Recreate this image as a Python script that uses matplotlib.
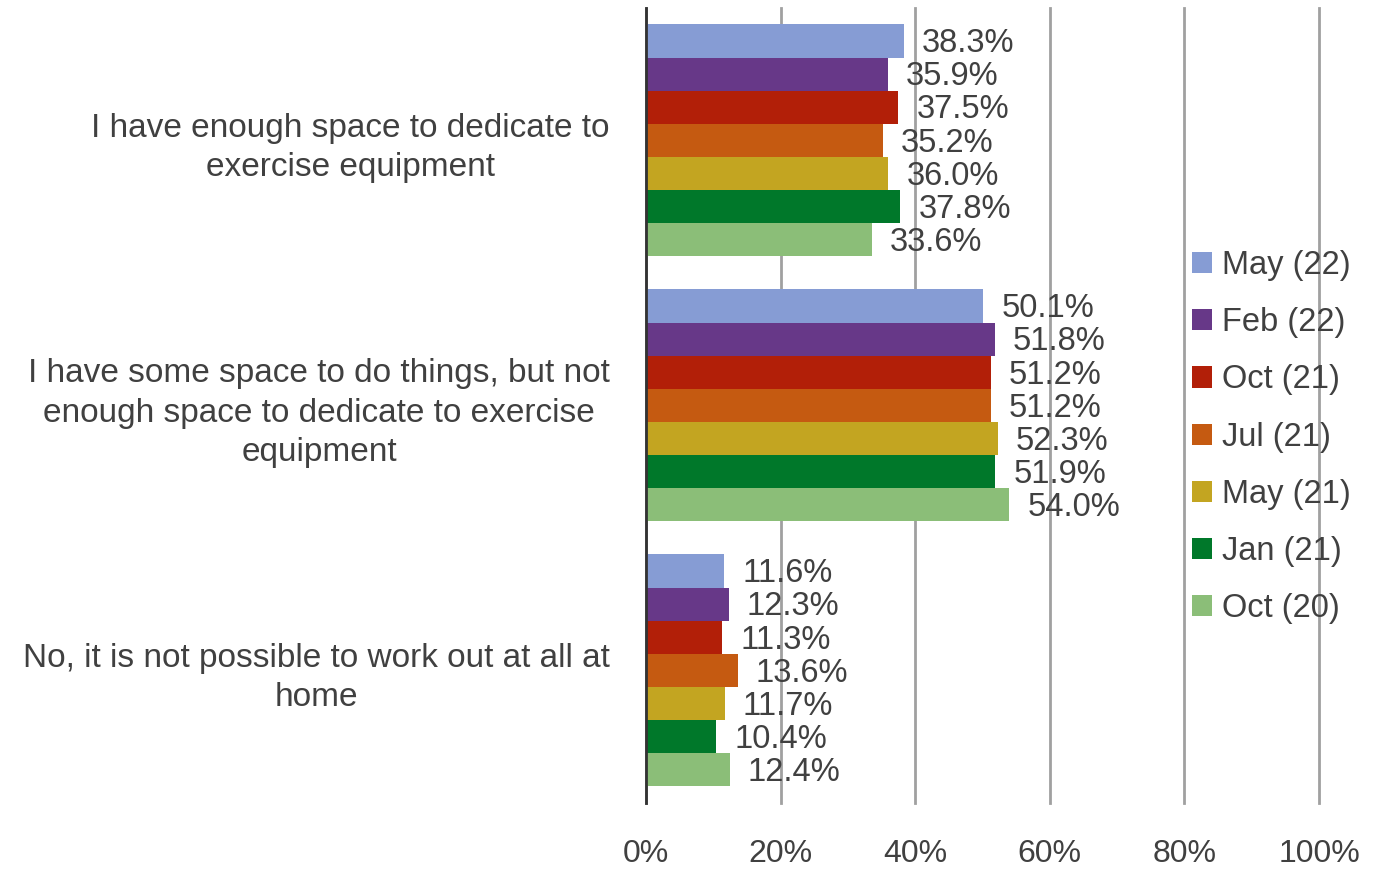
import matplotlib.pyplot as plt
import numpy as np

plt.rcParams["font.family"] = ["Liberation Sans", "DejaVu Sans"]

categories = [
    "I have enough space to dedicate to\nexercise equipment",
    "I have some space to do things, but not\nenough space to dedicate to exercise\nequipment",
    "No, it is not possible to work out at all at\nhome",
]
waves = ["May (22)", "Feb (22)", "Oct (21)", "Jul (21)", "May (21)", "Jan (21)", "Oct (20)"]
values = {
    "May (22)": [38.3, 50.1, 11.6],
    "Feb (22)": [35.9, 51.8, 12.3],
    "Oct (21)": [37.5, 51.2, 11.3],
    "Jul (21)": [35.2, 51.2, 13.6],
    "May (21)": [36.0, 52.3, 11.7],
    "Jan (21)": [37.8, 51.9, 10.4],
    "Oct (20)": [33.6, 54.0, 12.4],
}
colors = ["#869CD4", "#673888", "#B21F08", "#C55A11", "#C3A521", "#00782A", "#8BBE78"]

text_color = "#404040"
fs = 23.5

fig = plt.figure(figsize=(13.79, 8.69), dpi=100)
ax = fig.add_axes([0.4685, 0.076, 0.488, 0.915])

n = len(waves)
bar_h = 0.875 / n
y_base = np.arange(len(categories))

for j, (wave, color) in enumerate(zip(waves, colors)):
    ys = y_base + (j - (n - 1) / 2) * bar_h
    bars = ax.barh(ys, values[wave], height=bar_h, color=color, label=wave, zorder=2)
    for bar, v in zip(bars, values[wave]):
        ax.annotate(
            f"{v:.1f}%",
            xy=(bar.get_width(), bar.get_y() + bar.get_height() / 2),
            xytext=(13, -2),
            textcoords="offset points",
            va="center",
            ha="left",
            fontsize=fs,
            color=text_color,
            zorder=3,
        )

ax.set_xlim(0, 100)
ax.set_ylim(len(categories) - 0.5, -0.5)
ax.set_xticks(np.arange(0, 101, 20))
ax.set_xticklabels([f"{t}%" for t in range(0, 101, 20)], fontsize=23, color=text_color)
ax.set_yticks(y_base)
ax.set_yticklabels(categories, fontsize=24, color=text_color,
                   multialignment="center", linespacing=1.35)
ax.tick_params(axis="both", length=0)
ax.tick_params(axis="x", pad=26)
ax.tick_params(axis="y", pad=26)

ax.grid(True, axis="x", color="#A0A0A0", linewidth=2)
for line in ax.get_xgridlines():
    line.set_clip_on(False)
ax.set_axisbelow(True)
for side in ["top", "right", "bottom"]:
    ax.spines[side].set_visible(False)
ax.spines["left"].set_color("#333333")
ax.spines["left"].set_linewidth(2)
ax.spines["left"].set_zorder(4)

leg = fig.legend(
    loc="center left",
    bbox_to_anchor=(0.843, 0.497),
    frameon=False,
    fontsize=fs,
    handlelength=0.62,
    handleheight=0.62,
    handletextpad=0.3,
    labelspacing=0.8,
)
for text in leg.get_texts():
    text.set_color(text_color)

fig.savefig("out.png", dpi=100)
